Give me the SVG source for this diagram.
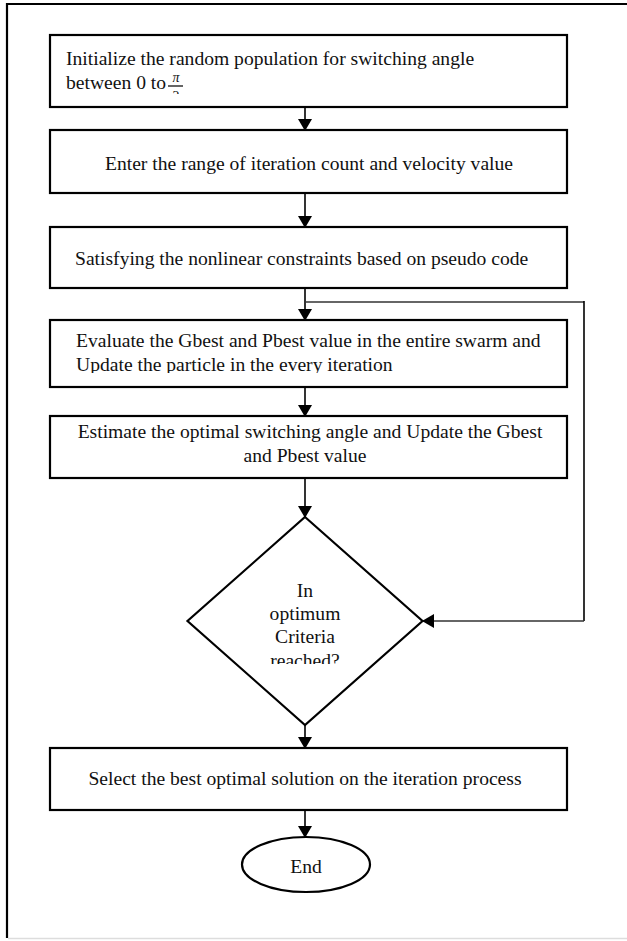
<svg xmlns="http://www.w3.org/2000/svg" width="627" height="941" viewBox="0 0 627 941">
<style>
.box{fill:#fff;stroke:#000;stroke-width:2.2}
.t{font-family:"Liberation Serif","Times New Roman",serif;font-size:19.6px;fill:#111}
.c{text-anchor:middle}
.ln{stroke:#000;stroke-width:1.6;fill:none}
.fb{stroke:#333;stroke-width:1.4;fill:none}
</style>
<defs>
<marker id="ah" markerWidth="12" markerHeight="14" refX="11" refY="7" orient="auto" markerUnits="userSpaceOnUse">
<path d="M0,0 L12,7 L0,14 Z" fill="#000"/>
</marker>
<clipPath id="c1"><rect x="50" y="36" width="517" height="58"/></clipPath>
<clipPath id="c4"><rect x="50" y="321" width="517" height="52"/></clipPath>
<clipPath id="cd"><rect x="190" y="520" width="232" height="144"/></clipPath>
</defs>
<rect width="627" height="941" fill="#fff"/>
<g id="frame">
<line x1="7" y1="4" x2="627" y2="4" stroke="#000" stroke-width="2"/>
<line x1="7" y1="3" x2="7" y2="938" stroke="#000" stroke-width="2.2"/>
<line x1="8" y1="938.5" x2="627" y2="938.5" stroke="#ddd" stroke-width="1.5"/>
</g>
<g id="connectors">
<line class="ln" x1="305" y1="107" x2="305" y2="130" marker-end="url(#ah)"/>
<line class="ln" x1="305" y1="193" x2="305" y2="227" marker-end="url(#ah)"/>
<line class="ln" x1="305" y1="288" x2="305" y2="320" marker-end="url(#ah)"/>
<line class="ln" x1="305" y1="387" x2="305" y2="416" marker-end="url(#ah)"/>
<line class="ln" x1="305" y1="478" x2="305" y2="517" marker-end="url(#ah)"/>
<line class="ln" x1="305" y1="725" x2="305" y2="748" marker-end="url(#ah)"/>
<line class="ln" x1="305" y1="810" x2="305" y2="837" marker-end="url(#ah)"/>
<path class="fb" d="M305,302 H584"/>
<path class="ln" d="M584,301 V621" stroke-width="2"/>
<path class="fb" d="M584,621 H423" marker-end="url(#ah)"/>
</g>
<g id="n1">
<rect class="box" x="50" y="35" width="517" height="72"/>
<text class="t" x="66" y="65">Initialize the random population for switching angle</text>
<g clip-path="url(#c1)">
<text class="t" x="66" y="89">between 0 to</text>
<text x="176" y="82" style="font-family:'Liberation Serif',serif;font-size:14px;font-style:italic;text-anchor:middle" fill="#111">π</text>
<line x1="168" y1="86" x2="183" y2="86" stroke="#111" stroke-width="1.3"/>
<text x="176" y="101" style="font-family:'Liberation Serif',serif;font-size:14px;text-anchor:middle" fill="#111">2</text>
</g>
</g>
<g id="n2">
<rect class="box" x="50" y="130" width="517" height="63"/>
<text class="t c" x="309" y="170">Enter the range of iteration count and velocity value</text>
</g>
<g id="n3">
<rect class="box" x="50" y="227" width="517" height="61"/>
<text class="t" x="75" y="265">Satisfying the nonlinear constraints based on pseudo code</text>
</g>
<g id="n4">
<rect class="box" x="50" y="320" width="517" height="67"/>
<g clip-path="url(#c4)">
<text class="t" x="76" y="347">Evaluate the Gbest and Pbest value in the entire swarm and</text>
<text class="t" x="76" y="371">Update the particle in the every iteration</text>
</g>
</g>
<g id="n5">
<rect class="box" x="50" y="416" width="517" height="62"/>
<text class="t c" x="310" y="438">Estimate the optimal switching angle and Update the Gbest</text>
<text class="t c" x="305" y="462">and Pbest value</text>
</g>
<g id="n6">
<path class="box" d="M305,517 L422.5,621 L305,725 L187.5,621 Z"/>
<g clip-path="url(#cd)">
<text class="t c" x="305" y="597">In</text>
<text class="t c" x="305" y="620">optimum</text>
<text class="t c" x="305" y="643">Criteria</text>
<text class="t c" x="305" y="667">reached?</text>
</g>
</g>
<g id="n7">
<rect class="box" x="50" y="748" width="517" height="62"/>
<text class="t c" x="305" y="785">Select the best optimal solution on the iteration process</text>
</g>
<g id="n8">
<ellipse class="box" cx="306" cy="864.5" rx="64" ry="27.5"/>
<text class="t c" x="306" y="873">End</text>
</g>
</svg>
